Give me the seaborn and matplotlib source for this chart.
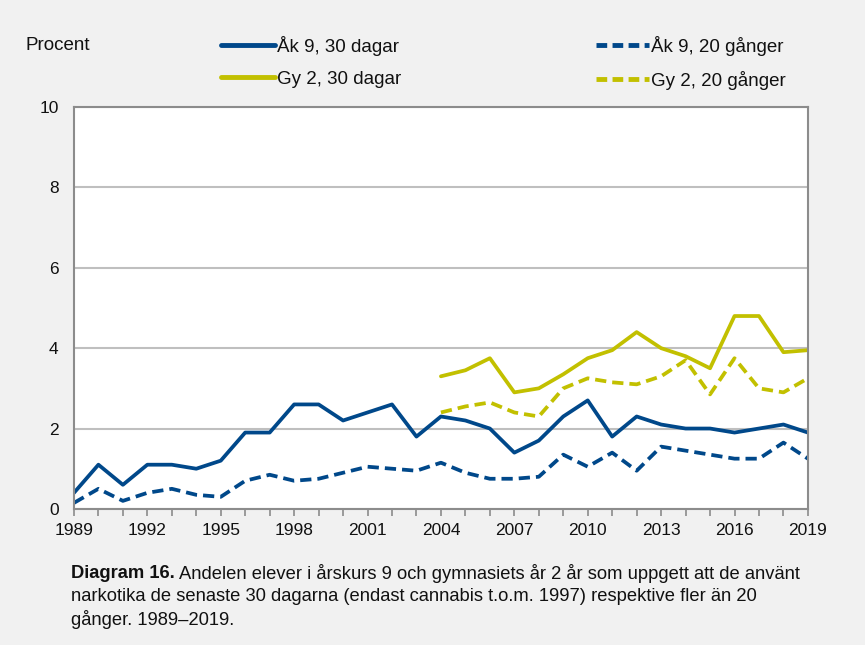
import numpy as np
import pandas as pd
import matplotlib
matplotlib.use('Agg')
import matplotlib.pyplot as plt
from matplotlib.ticker import MultipleLocator
from matplotlib.lines import Line2D
import seaborn as sns

# Data
years_ak9 = list(range(1989, 2020))
ak9_30 = [0.4, 1.1, 0.6, 1.1, 1.1, 1.0, 1.2, 1.9, 1.9, 2.6, 2.6, 2.2, 2.4, 2.6, 1.8, 2.3,
          2.2, 2.0, 1.4, 1.7, 2.3, 2.7, 1.8, 2.3, 2.1, 2.0, 2.0, 1.9, 2.0, 2.1, 1.9]
ak9_20 = [0.15, 0.5, 0.2, 0.4, 0.5, 0.35, 0.3, 0.7, 0.85, 0.7, 0.75, 0.9, 1.05, 1.0, 0.95, 1.15,
          0.9, 0.75, 0.75, 0.8, 1.35, 1.05, 1.4, 0.95, 1.55, 1.45, 1.35, 1.25, 1.25, 1.65, 1.25]
years_gy2 = list(range(2004, 2020))
gy2_30 = [3.3, 3.45, 3.75, 2.9, 3.0, 3.35, 3.75, 3.95, 4.4, 4.0, 3.8, 3.5, 4.8, 4.8, 3.9, 3.95]
gy2_20 = [2.4, 2.55, 2.65, 2.4, 2.3, 3.0, 3.25, 3.15, 3.1, 3.3, 3.7, 2.85, 3.75, 3.0, 2.9, 3.25]

labels = ['Åk 9, 30 dagar', 'Gy 2, 30 dagar', 'Åk 9, 20 gånger', 'Gy 2, 20 gånger']

blue = '#00488A'
yellow = '#C2C000'

df = pd.concat([
    pd.DataFrame({'year': years_ak9, 'value': ak9_30, 'serie': labels[0]}),
    pd.DataFrame({'year': years_gy2, 'value': gy2_30, 'serie': labels[1]}),
    pd.DataFrame({'year': years_ak9, 'value': ak9_20, 'serie': labels[2]}),
    pd.DataFrame({'year': years_gy2, 'value': gy2_20, 'serie': labels[3]}),
])

sns.set_style('white')
plt.rcParams['font.family'] = ['Liberation Sans', 'DejaVu Sans']
plt.rcParams['font.size'] = 12
plt.rcParams['text.color'] = '#111111'
plt.rcParams['xtick.labelcolor'] = '#111111'
plt.rcParams['ytick.labelcolor'] = '#111111'

bg = '#F1F1F1'
fig = plt.figure(figsize=(8.65, 6.45), dpi=100, facecolor=bg)
ax = fig.add_axes([0.0855, 0.211, 0.8485, 0.623])
ax.set_facecolor('white')

palette = {labels[0]: blue, labels[1]: yellow, labels[2]: blue, labels[3]: yellow}
dashes = {labels[0]: '', labels[1]: '', labels[2]: (3, 1.6), labels[3]: (3, 1.6)}
sns.lineplot(data=df, x='year', y='value', hue='serie', style='serie', palette=palette,
             dashes=dashes, linewidth=2.7, ax=ax, legend=False, hue_order=labels,
             style_order=labels)

ax.set_xlim(1989, 2019)
ax.set_ylim(0, 10)
ax.set_xticks(range(1989, 2020, 3))
ax.xaxis.set_minor_locator(MultipleLocator(1))
ax.set_yticks(range(0, 11, 2))
ax.yaxis.grid(True, color='#BFBFBF', linewidth=1.5)
ax.set_axisbelow(True)
for s in ax.spines.values():
    s.set_color('#8C8C8C')
    s.set_linewidth(1.5)
ax.tick_params(axis='x', which='both', direction='out', length=5, width=1.2,
               color='#8C8C8C', labelsize=12.5, pad=5, bottom=True)
ax.tick_params(axis='y', length=0, labelsize=12.5, pad=11)
ax.set_xlabel('')
ax.set_ylabel('')

# Legend
handles = [
    Line2D([], [], color=blue, lw=3.5),
    Line2D([], [], color=yellow, lw=3.5),
    Line2D([], [], color=blue, lw=3.5, dashes=(2.2, 1.1)),
    Line2D([], [], color=yellow, lw=3.5, dashes=(2.2, 1.1)),
]
fig.legend(handles, labels, ncol=2, loc='center left', bbox_to_anchor=(0.256, 0.903),
           frameon=False, fontsize=13.5, handlelength=2.85, handletextpad=0.1,
           columnspacing=10.4, labelspacing=0.8, borderaxespad=0, borderpad=0)
fig.text(0.029, 0.929, 'Procent', fontsize=13.5, va='center', ha='left')

# Caption
cap_x = 0.082
bold = fig.text(cap_x, 0.111, 'Diagram 16.', fontsize=13.2, fontweight='bold', va='center', ha='left')
renderer = fig.canvas.get_renderer()
bw = bold.get_window_extent(renderer).width / fig.bbox.width
fig.text(cap_x + bw + 0.005, 0.111,
         'Andelen elever i årskurs 9 och gymnasiets år 2 år som uppgett att de använt',
         fontsize=13.2, va='center', ha='left')
fig.text(cap_x, 0.075, 'narkotika de senaste 30 dagarna (endast cannabis t.o.m. 1997) respektive fler än 20',
         fontsize=13.2, va='center', ha='left')
fig.text(cap_x, 0.039, 'gånger. 1989–2019.', fontsize=13.2, va='center', ha='left')

fig.savefig('out.png', dpi=100, facecolor=bg)
